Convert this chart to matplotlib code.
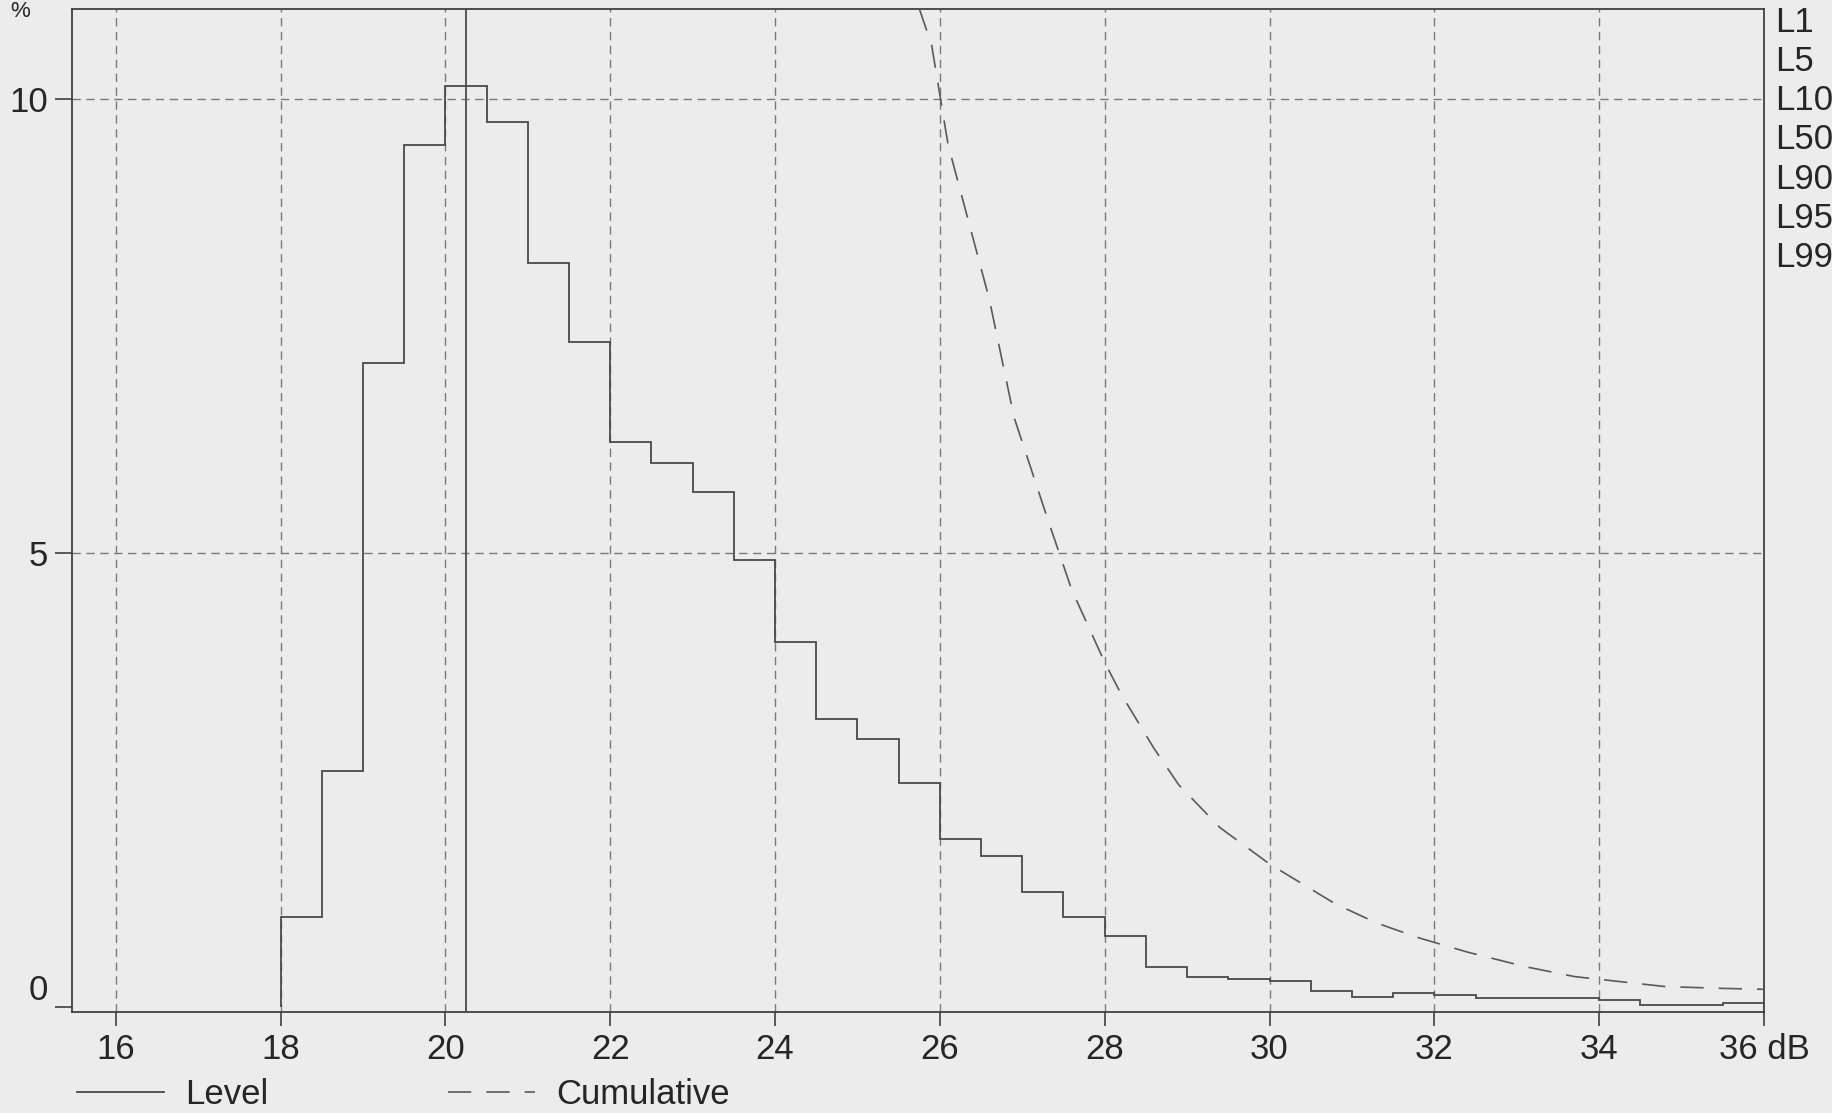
import matplotlib.pyplot as plt

plt.rcParams['font.family'] = ['Liberation Sans', 'DejaVu Sans']

# level classes (dB), 0.5 dB wide
bin_edges = [18.0, 18.5, 19.0, 19.5, 20.0, 20.5, 21.0, 21.5, 22.0, 22.5,
             23.0, 23.5, 24.0, 24.5, 25.0, 25.5, 26.0, 26.5, 27.0, 27.5,
             28.0, 28.5, 29.0, 29.5, 30.0, 30.5, 31.0, 31.5, 32.0, 32.5,
             33.0, 33.5, 34.0, 34.5, 35.0, 35.5, 36.0]
# level distribution (%)
level_pct = [1.0, 2.6, 7.1, 9.5, 10.15, 9.75, 8.2, 7.33, 6.23, 6.0,
             5.68, 4.93, 4.02, 3.18, 2.96, 2.47, 1.86, 1.67, 1.27, 1.0,
             0.79, 0.45, 0.34, 0.31, 0.29, 0.18, 0.12, 0.16, 0.14, 0.10,
             0.10, 0.10, 0.08, 0.03, 0.03, 0.05]

# cumulative curve (only the visible part)
cum_db = [25.75, 25.9, 26.1, 26.6, 26.9, 27.3, 27.6, 28.0, 28.2, 28.6,
          28.9, 29.4, 30.0, 30.2, 30.8, 31.3, 31.8, 32.4, 33.1, 33.7,
          34.0, 34.8, 35.5, 36.0]
cum_pct = [11.0, 10.6, 9.5, 7.8, 6.5, 5.4, 4.6, 3.8, 3.45, 2.85,
           2.45, 1.98, 1.58, 1.47, 1.14, 0.93, 0.77, 0.61, 0.45, 0.34,
           0.31, 0.23, 0.21, 0.2]

marker_db = 20.25

x_ticks = [16, 18, 20, 22, 24, 26, 28, 30, 32, 34, 36]
x_labels = ['16', '18', '20', '22', '24', '26', '28', '30', '32', '34', '36 dB']
y_ticks = [0, 5, 10]
y_grid = [5, 10]
x_grid = [16, 18, 20, 22, 24, 26, 28, 30, 32, 34]
stat_labels = ['L1', 'L5', 'L10', 'L50', 'L90', 'L95', 'L99']

bg = '#ececec'
ink = '#262626'
line_c = '#4a4a4a'
grid_c = '#7a7a7a'
fs = 25

W, H = 1832, 1113
fig = plt.figure(figsize=(W / 100, H / 100), dpi=100, facecolor=bg)
ax = fig.add_axes([72 / W, 1 - 1012 / H, (1764 - 72) / W, (1012 - 8.5) / H])
ax.set_facecolor(bg)

for xg in x_grid:
    ax.axvline(xg, color=grid_c, lw=1.0, ls=(0, (6, 4)), zorder=1)
for yg in y_grid:
    ax.axhline(yg, color=grid_c, lw=1.0, ls=(0, (6, 4)), zorder=1)

ax.stairs(level_pct, bin_edges, baseline=0, color=line_c, lw=1.3,
          label='Level', zorder=3)
ax.plot(cum_db, cum_pct, color='#5a5a5a', lw=1.2, dashes=(14, 9),
        label='Cumulative', zorder=3)
ax.axvline(marker_db, color=line_c, lw=1.3, zorder=3)

ax.set_xlim(15.47, 36)
ax.set_ylim(-0.05, 11)

for s in ax.spines.values():
    s.set_color('#404040')
    s.set_linewidth(1.3)

ax.set_xticks(x_ticks)
ax.set_xticklabels(x_labels)
ax.set_yticks(y_ticks)
ax.set_yticklabels([str(v) for v in y_ticks])
ax.tick_params(axis='x', direction='out', length=10, width=1.2, color='#404040',
               labelsize=fs, labelcolor=ink, pad=5)
ax.tick_params(axis='y', direction='out', length=12, width=1.2, color='#404040',
               labelsize=fs, labelcolor=ink, pad=5)
ax.get_yticklabels()[0].set_va('bottom')

# statistics labels on the right
for i, lab in enumerate(stat_labels):
    fig.text(1775 / W, 1 - (22 + i * 39.3) / H, lab, fontsize=fs, color=ink,
             ha='left', va='center')

# unit label in the top-left corner
fig.text(20 / W, 1 - 1 / H, '%', fontsize=16, color=ink, ha='center', va='top')

handles, labels = ax.get_legend_handles_labels()
fig.legend(handles, labels, loc='center left',
           bbox_to_anchor=(77 / W, 1 - 1095 / H), ncol=2, frameon=False,
           fontsize=fs, handlelength=2.5, handletextpad=0.6,
           columnspacing=5.2, borderpad=0, borderaxespad=0,
           labelcolor=ink)

fig.savefig('out.png', dpi=100, facecolor=bg)
